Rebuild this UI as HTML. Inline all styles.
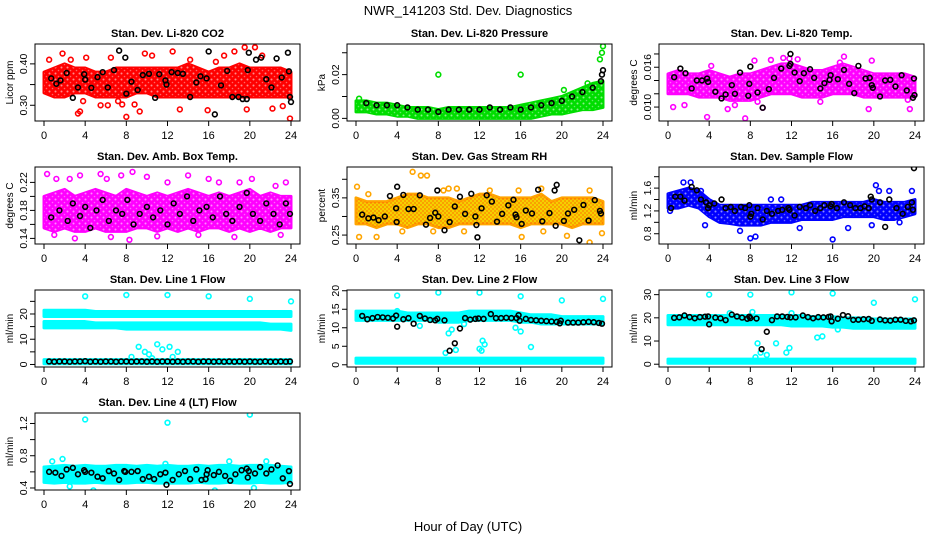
<!DOCTYPE html>
<html><head><meta charset="utf-8"><style>
html,body{margin:0;padding:0;background:#fff;}
svg text{font-family:"Liberation Sans",Arial,sans-serif;}
</style></head><body>
<svg id="chart" width="936" height="540" viewBox="0 0 936 540" xmlns="http://www.w3.org/2000/svg">
<defs>
<pattern id="speck" width="6" height="6" patternUnits="userSpaceOnUse">
<circle cx="1.5" cy="1.5" r="1" fill="#fff" opacity="0.55"/>
<circle cx="4.5" cy="4.5" r="0.8" fill="#fff" opacity="0.4"/>
</pattern>
<pattern id="speckOrange" width="4" height="4" patternUnits="userSpaceOnUse">
<circle cx="1" cy="1" r="1" fill="#ff8c00" opacity="0.9"/>
<circle cx="3" cy="3" r="0.9" fill="#ff3000" opacity="0.5"/>
</pattern>
</defs>
<rect x="0" y="0" width="936" height="540" fill="#fff"/>
<text x="468" y="15" font-size="13" text-anchor="middle">NWR_141203 Std. Dev. Diagnostics</text>
<text x="468" y="531" font-size="13" text-anchor="middle">Hour of Day (UTC)</text>
</svg>
<script>
// ---------- DATA ----------
const hours = [0,1,2,3,4,5,6,7,8,9,10,11,12,13,14,15,16,17,18,19,20,21,22,23,24];
const xTicks = [0,4,8,12,16,20,24];

// P1 CO2
const co2Lo = [0.33,0.32,0.32,0.33,0.33,0.32,0.32,0.32,0.32,0.33,0.33,0.32,0.32,0.32,0.32,0.32,0.32,0.32,0.32,0.32,0.32,0.32,0.32,0.32,0.32];
const co2Hi = [0.38,0.39,0.40,0.39,0.39,0.38,0.38,0.39,0.39,0.39,0.39,0.39,0.39,0.39,0.40,0.39,0.38,0.39,0.39,0.40,0.39,0.39,0.39,0.39,0.38];
const co2Out = [[0.5,0.41],[1.8,0.425],[3.3,0.28],[3.5,0.285],[4.1,0.415],[5.5,0.30],[6.2,0.30],[8.0,0.272],[8.8,0.302],[9.3,0.285],[9.8,0.425],[12.5,0.43],[13.2,0.29],[15.9,0.288],[14.2,0.41],[17.5,0.42],[18.5,0.43],[19.5,0.44],[19.7,0.29],[20.5,0.44],[22.2,0.292],[23.2,0.298],[23.9,0.268],[7.2,0.31],[6.5,0.415],[10.5,0.42],[21.2,0.42],[2.6,0.41],[16.7,0.405],[3.8,0.31],[7.6,0.302]];
const co2Blk = [[0.7,0.365],[1.2,0.352],[1.6,0.36],[2.2,0.378],[2.8,0.318],[3.3,0.343],[3.9,0.375],[4.0,0.362],[4.6,0.342],[5.2,0.368],[5.7,0.38],[6.2,0.343],[6.8,0.385],[7.3,0.432],[7.9,0.415],[8.0,0.328],[8.5,0.357],[9.1,0.337],[9.6,0.373],[10.2,0.376],[10.8,0.318],[11.2,0.375],[11.8,0.36],[11.9,0.35],[12.4,0.38],[13.0,0.378],[13.5,0.376],[14.2,0.32],[14.8,0.355],[15.2,0.37],[15.8,0.365],[16.0,0.43],[16.6,0.278],[17.2,0.348],[17.8,0.383],[18.3,0.32],[18.9,0.32],[19.3,0.315],[19.7,0.315],[19.8,0.385],[19.9,0.427],[20.6,0.41],[21.1,0.415],[21.6,0.363],[22.1,0.343],[22.6,0.413],[23.1,0.367],[23.7,0.427],[23.8,0.382],[23.9,0.32],[24.0,0.308]];

// P2 Pressure
const presLo = [0.003,0.003,0.002,0.002,0.001,0.001,0.0,0.0,0.0,0.0,0.0,0.0,0.0,0.0,0.0,0.0,0.0,0.0,0.001,0.002,0.002,0.003,0.004,0.004,0.005];
const presHi = [0.008,0.008,0.007,0.007,0.006,0.005,0.005,0.005,0.004,0.005,0.005,0.005,0.005,0.005,0.005,0.005,0.006,0.007,0.008,0.009,0.010,0.012,0.014,0.016,0.017];
const presOut = [[8.0,0.020],[16.0,0.020],[23.7,0.027],[23.9,0.030],[24,0.033],[22.5,0.016],[20.2,0.013],[0.3,0.009]];
const presBlk = [[1.0,0.007],[2.0,0.006],[3.0,0.006],[4.0,0.006],[5,0.005],[6,0.004],[7,0.004],[8,0.003],[9,0.004],[10,0.004],[11,0.004],[12,0.004],[13,0.005],[14,0.004],[15,0.005],[16,0.004],[17,0.005],[18,0.006],[19,0.007],[20,0.008],[21,0.010],[22,0.012],[23,0.014],[23.8,0.017],[23.9,0.020],[24,0.022]];

// P3 Li-820 Temp
const tempLo = [0.012,0.012,0.012,0.0115,0.0115,0.0115,0.011,0.011,0.011,0.0115,0.012,0.012,0.012,0.0115,0.0115,0.0115,0.012,0.012,0.012,0.0115,0.0115,0.0115,0.0115,0.0115,0.0115];
const tempHi = [0.015,0.0155,0.015,0.015,0.0155,0.015,0.0145,0.015,0.015,0.0155,0.016,0.0165,0.0165,0.016,0.0155,0.0155,0.016,0.0165,0.016,0.0155,0.015,0.015,0.015,0.015,0.0145];
const tempOut = [[0.5,0.010],[1.6,0.0103],[3.8,0.0085],[6.5,0.0103],[7.5,0.0083],[5.8,0.0097],[9.2,0.0099],[8.7,0.0108],[10,0.0171],[11.2,0.0174],[11.8,0.0173],[12.6,0.0172],[14.8,0.0108],[16.7,0.0167],[17.1,0.0176],[19.5,0.0097],[19.8,0.017],[23.5,0.0097],[23.3,0.0111],[4.2,0.0162],[8.4,0.0170]];
const tempBlk = [[0.6,0.0145],[1.2,0.0158],[1.7,0.0151],[2.3,0.0128],[2.8,0.014],[3.3,0.014],[3.8,0.0143],[3.9,0.0138],[4.6,0.0123],[5.2,0.0113],[5.6,0.0119],[6.2,0.0133],[6.5,0.012],[7.0,0.0152],[7.8,0.0117],[7.9,0.0135],[8.0,0.0161],[8.7,0.0122],[9.2,0.0099],[9.8,0.0127],[10.3,0.0144],[11.0,0.0158],[11.8,0.0162],[11.9,0.0165],[11.9,0.018],[12.3,0.0152],[12.8,0.0139],[13.2,0.0151],[13.8,0.0157],[14.2,0.0144],[14.8,0.0128],[15.2,0.0136],[15.7,0.0141],[15.8,0.0148],[16.5,0.0142],[17.1,0.0156],[17.6,0.0135],[18.1,0.0121],[18.5,0.0162],[19.2,0.0143],[19.6,0.0144],[19.8,0.0133],[19.9,0.0129],[20.6,0.0116],[21.1,0.014],[21.6,0.0141],[22.1,0.0131],[22.7,0.0148],[23.2,0.0125],[23.8,0.0114],[23.9,0.0143],[23.95,0.0118]];

// P4 Amb Box Temp
const ambLo = [0.155,0.15,0.155,0.15,0.15,0.155,0.15,0.15,0.15,0.155,0.155,0.15,0.155,0.15,0.155,0.15,0.155,0.155,0.15,0.155,0.15,0.155,0.15,0.155,0.155];
const ambHi = [0.20,0.205,0.21,0.20,0.205,0.21,0.205,0.20,0.21,0.205,0.20,0.205,0.20,0.205,0.21,0.205,0.20,0.205,0.20,0.205,0.21,0.20,0.205,0.20,0.20];
const ambOut = [[0.3,0.232],[1.2,0.225],[2.5,0.225],[3.5,0.23],[5.5,0.232],[6.1,0.225],[7.5,0.23],[8.6,0.235],[10,0.228],[12,0.22],[14,0.23],[16,0.225],[17,0.22],[19,0.22],[20.2,0.225],[22.5,0.215],[23.5,0.22],[1,0.145],[3,0.14],[6.5,0.142],[8.3,0.138],[11,0.143],[15,0.145],[18.5,0.142],[23,0.145]];
const ambBlk = [[0.7,0.17],[1.5,0.18],[2.3,0.165],[2.8,0.19],[3.5,0.172],[4.0,0.185],[4.5,0.155],[5.1,0.18],[5.7,0.195],[6.3,0.165],[7.0,0.18],[7.6,0.175],[8.1,0.195],[8.7,0.16],[9.3,0.175],[10,0.185],[10.6,0.17],[11.3,0.18],[12.0,0.16],[12.6,0.19],[13.2,0.175],[13.9,0.2],[14.5,0.165],[15.1,0.18],[15.8,0.185],[16.4,0.17],[17.1,0.2],[17.7,0.175],[18.3,0.165],[19.0,0.185],[19.7,0.205],[20.3,0.175],[21.0,0.165],[21.6,0.19],[22.3,0.175],[22.9,0.16],[23.5,0.19],[23.9,0.175]];

// P5 Gas Stream RH
const rhLo = [0.28,0.28,0.27,0.28,0.28,0.27,0.28,0.28,0.27,0.27,0.28,0.28,0.28,0.28,0.28,0.28,0.27,0.28,0.28,0.28,0.28,0.27,0.28,0.28,0.28];
const rhHi = [0.35,0.34,0.34,0.34,0.35,0.36,0.36,0.35,0.35,0.35,0.34,0.35,0.36,0.36,0.35,0.35,0.35,0.35,0.36,0.34,0.35,0.35,0.35,0.35,0.34];
const rhOut = [[0.1,0.38],[0.3,0.245],[1.2,0.36],[2.0,0.245],[5.5,0.42],[6.3,0.41],[6.9,0.41],[8.5,0.37],[9.0,0.375],[9.8,0.375],[13,0.37],[15.8,0.37],[16.1,0.245],[18.0,0.375],[18.2,0.26],[20.5,0.248],[22.7,0.37],[23.9,0.255],[22.7,0.23],[7.5,0.26],[10.5,0.26],[4.5,0.26]];
const rhBlk = [[0.6,0.305],[1.2,0.295],[1.7,0.297],[2.2,0.29],[2.8,0.3],[3.3,0.355],[3.9,0.322],[3.95,0.285],[4.0,0.38],[4.6,0.358],[5.1,0.32],[5.6,0.32],[6.2,0.357],[6.8,0.278],[7.2,0.296],[7.7,0.31],[7.9,0.37],[8.0,0.3],[8.6,0.263],[9.1,0.285],[9.6,0.327],[10.1,0.353],[10.6,0.307],[11.2,0.361],[11.6,0.3],[11.7,0.277],[11.8,0.244],[12.2,0.322],[12.7,0.357],[13.2,0.34],[13.7,0.286],[14.2,0.307],[14.8,0.33],[15.3,0.345],[15.5,0.305],[15.6,0.298],[16.1,0.28],[16.5,0.316],[17.1,0.308],[17.7,0.372],[18.1,0.287],[18.8,0.309],[19.3,0.37],[19.4,0.275],[19.5,0.385],[20.2,0.288],[20.6,0.308],[21.2,0.318],[21.7,0.236],[22.1,0.331],[22.6,0.289],[23.2,0.344],[23.7,0.315],[23.8,0.308]];

// P6 Sample Flow
const sfLo = [1.25,1.25,1.3,1.25,1.1,1.0,0.98,0.95,0.95,0.95,1.0,1.0,1.0,1.05,1.05,1.05,1.05,1.1,1.1,1.1,1.1,1.05,1.05,1.1,1.15];
const sfHi = [1.5,1.55,1.6,1.55,1.4,1.3,1.3,1.3,1.3,1.3,1.3,1.3,1.3,1.3,1.35,1.35,1.35,1.35,1.35,1.35,1.4,1.35,1.35,1.35,1.4];
const sfOut = [[0.2,1.2],[1.5,1.7],[2.2,1.7],[3.2,1.55],[3.6,0.95],[7.0,0.85],[8.0,0.72],[8.5,0.75],[10,1.4],[11,1.4],[16,0.7],[17.5,0.9],[20.2,1.65],[20.5,1.55],[21.5,1.55],[23.7,1.55],[22.5,1.0],[19.8,0.95],[12.8,0.9]];
const sfBlk = [[0.3,1.25],[0.7,1.45],[1.2,1.45],[1.6,1.38],[2.3,1.62],[2.8,1.56],[3.2,1.4],[3.7,1.35],[3.9,1.25],[4.0,1.3],[4.5,1.33],[5.2,1.4],[5.6,1.25],[6.1,1.27],[6.5,1.2],[7.1,1.27],[7.5,1.25],[7.9,1.3],[8.0,1.1],[8.1,1.15],[8.7,1.25],[9.2,1.05],[9.6,1.2],[10.1,1.15],[10.7,1.2],[11.1,1.22],[11.7,1.25],[11.8,1.22],[12.3,1.12],[12.8,1.27],[13.4,1.25],[13.8,1.3],[14.3,1.2],[14.8,1.25],[15.2,1.3],[15.8,1.28],[15.9,1.32],[16.4,1.25],[17.1,1.35],[17.7,1.3],[18.2,1.25],[18.7,1.25],[19.1,1.28],[19.5,1.25],[19.7,1.45],[19.8,1.4],[20.6,1.35],[21.1,0.92],[21.5,1.4],[22.2,1.25],[22.8,1.15],[23.3,1.27],[23.7,1.35],[23.8,1.22],[23.9,1.95]];

// P7 Line 1 Flow
const l1ALo = [19,19,19,19,19,19,19,19,19,19,19,19,19,19,19,19,19,19,19,19,19,19,19,19,19];
const l1AHi = [21.5,21.5,21.5,21.5,21.5,21,21,21,21,21,21,21,21,21,21,21,21,21,21,21,21,21,21,21,21];
const l1BLo = [14.5,14.5,14.5,14.5,14.5,14.5,14.5,14.5,14,14,14,14,14,14,14,14,14,14,14,14,14,14,14,14,13.5];
const l1BHi = [17,17,17,17,17,16.5,16.5,16.5,16.5,16.5,16.5,16.5,16.5,16.5,16.5,16.5,16.5,16.5,16.5,16.5,16.5,16.5,16,16,16];
const l1CLo = [0.3,0.3,0.3,0.3,0.3,0.3,0.3,0.3,0.3,0.3,0.3,0.3,0.3,0.3,0.3,0.3,0.3,0.3,0.3,0.3,0.3,0.3,0.3,0.3,0.3];
const l1CHi = [1.9,1.9,1.9,1.9,1.9,1.9,1.9,1.9,1.9,1.9,1.9,1.9,1.9,1.9,1.9,1.9,1.9,1.9,1.9,1.9,1.9,1.9,1.9,1.9,1.9];
const l1Out = [[4,27],[8,27.5],[12,27.5],[16,27],[20,26],[24,25],[9.2,7],[9.8,5],[10.2,4],[11,8],[11.5,6],[12.2,7],[13,5],[8.5,3],[12.5,3],[10.5,2.5]];
const l1Blk = [[0.5,1.2],[1,1.1],[1.5,1.2],[2,1.2],[2.5,1.1],[3,1.2],[3.5,1.2],[4,1.3],[4.5,1.1],[5,1.2],[5.5,1.1],[6,1.2],[6.5,1.2],[7,1.1],[7.5,1.2],[8,1.2],[8.5,1.1],[9,1.2],[9.5,1.2],[10,1.1],[10.5,1.2],[11,1.1],[11.5,1.2],[12,1.2],[12.5,1.1],[13,1.2],[13.5,1.1],[14,1.2],[14.5,1.2],[15,1.1],[15.5,1.2],[16,1.2],[16.5,1.1],[17,1.2],[17.5,1.1],[18,1.2],[18.5,1.1],[19,1.2],[19.5,1.1],[20,1.2],[20.5,1.1],[21,1.1],[21.5,1.2],[22,1.1],[22.5,1.1],[23,1.2],[23.5,1.1],[23.9,1.2]];

// P8 Line 2 Flow
const l2ALo = [12,12,12,12,12,12,12,12,11.5,11.5,11.5,12,12,12,12,12,11.5,11.5,11,11,11,11,11,11,11];
const l2AHi = [14.5,14.5,14.5,14.5,14.5,14,14,14,14,14,14,14.5,14.5,14.5,14.5,14.5,14,13.5,13.5,13.5,13,13,13,13,13];
const l2BLo = [0.4,0.4,0.4,0.4,0.4,0.4,0.4,0.4,0.4,0.4,0.4,0.4,0.4,0.4,0.4,0.4,0.4,0.4,0.4,0.4,0.4,0.4,0.4,0.4,0.4];
const l2BHi = [1.8,1.8,1.8,1.8,1.8,1.8,1.8,1.8,1.8,1.8,1.8,1.8,1.8,1.8,1.8,1.8,1.8,1.8,1.8,1.8,1.8,1.8,1.8,1.8,1.8];
const l2Out = [[4,18.7],[8,19.5],[12,19.5],[16,18.5],[20,17.4],[24,17.8],[9,8.5],[9.3,9.5],[12,4.3],[12.3,6.5],[12.5,5.5],[12.2,3.8],[17,4.8],[8.7,3.2],[9.7,4],[15.5,10],[16,9],[6.2,10.5],[4,14.5],[10.5,11]];
const l2Blk = [[0.6,13.2],[1.1,12.3],[1.6,12.6],[2.1,12.9],[2.6,12.8],[3.1,12.7],[3.6,12.5],[3.9,13.3],[4.0,10.3],[4.6,12.3],[5.1,12.6],[5.6,11.1],[6.2,13.2],[6.7,12.5],[7.2,12.1],[7.7,12.0],[7.9,12.4],[8.6,12.0],[9.1,3.8],[9.6,5.8],[10.1,9.8],[10.6,12.6],[11.1,12.2],[11.6,12.4],[11.9,12.5],[12.4,12.4],[13.1,13.7],[13.6,12.6],[14.1,12.6],[14.6,12.7],[15.1,12.6],[15.6,12.6],[15.8,13.4],[15.9,11.9],[16.5,12.4],[17.0,12.1],[17.5,12.0],[18.0,11.9],[18.5,11.8],[19.0,11.7],[19.5,11.6],[19.8,11.2],[19.9,11.9],[20.6,11.4],[21.1,11.4],[21.6,11.4],[22.1,11.5],[22.6,11.6],[23.1,11.5],[23.6,11.3],[23.9,11.1]];

// P9 Line 3 Flow
const l3ALo = [17,17,17,17,17,17,17,17,17,17,17,17,16.5,16.5,16.5,16.5,16,16,15.5,15.5,15.5,15.5,15.5,15.5,15.5];
const l3AHi = [21,21,21,21,21,21,21,21,21,21,21,21,21,21,20.5,20.5,20.5,20,20,20,19.5,19.5,19.5,19.5,19.5];
const l3BLo = [0.4,0.4,0.4,0.4,0.4,0.4,0.4,0.4,0.4,0.4,0.4,0.4,0.4,0.4,0.4,0.4,0.4,0.4,0.4,0.4,0.4,0.4,0.4,0.4,0.4];
const l3BHi = [2.2,2.2,2.2,2.2,2.2,2.2,2.2,2.2,2.2,2.2,2.2,2.2,2.2,2.2,2.2,2.2,2.2,2.2,2.2,2.2,2.2,2.2,2.2,2.2,2.2];
const l3Out = [[4,30],[8,30],[12,31],[16,30.5],[20,26.5],[24,28],[8.7,9],[8.5,3],[9,5],[9.6,4],[10.5,9],[11.5,5],[11.8,7],[14.5,11.5],[15,12],[12,22],[6,22],[16.5,15],[8.2,22.5]];
const l3Blk = [[0.6,20],[1.1,20.2],[1.6,21],[2.1,20.3],[2.6,19.8],[3.1,20.3],[3.6,20.5],[3.9,20.6],[4.0,17.2],[4.6,20.1],[5.1,19.8],[5.6,19],[6.2,21.4],[6.7,20.6],[7.2,20.1],[7.7,19.6],[7.9,20.5],[8.0,19.9],[8.6,19.7],[9.1,6.5],[9.6,14],[10.1,19],[10.6,20.6],[11.1,20.6],[11.6,20.4],[11.9,20.2],[12.4,20.2],[13.1,21],[13.6,20.3],[14.1,19.8],[14.6,20.3],[15.1,20.2],[15.6,20.4],[15.8,20.6],[15.9,18.5],[16.5,19.6],[17.0,21.2],[17.5,20.7],[18.0,19.1],[18.5,19.2],[19.0,19.4],[19.5,19.5],[19.8,18.7],[20.6,19.3],[21.1,18.9],[21.6,18.8],[22.1,19.2],[22.6,19.2],[23.1,18.7],[23.6,18.5],[23.9,18.9]];

// P10 Line 4 (LT) Flow
const l4Lo = [0.47,0.46,0.47,0.46,0.46,0.47,0.46,0.46,0.46,0.47,0.47,0.46,0.46,0.46,0.46,0.47,0.46,0.46,0.47,0.46,0.46,0.47,0.46,0.46,0.47];
const l4Hi = [0.66,0.67,0.68,0.67,0.68,0.67,0.67,0.68,0.68,0.67,0.68,0.67,0.68,0.67,0.67,0.68,0.67,0.68,0.68,0.67,0.68,0.68,0.68,0.67,0.66];
const l4Out = [[4,1.25],[12,1.21],[20,1.31],[1.8,0.76],[4.8,0.37],[16.6,0.37],[20.4,0.4],[21.6,0.73],[18,0.73],[0.8,0.73],[2.5,0.42],[11.8,0.7]];
const l4Blk = [[0.5,0.6],[1.1,0.59],[1.7,0.55],[2.2,0.63],[2.8,0.65],[3.3,0.57],[3.9,0.62],[4.0,0.6],[4.6,0.59],[5.2,0.54],[5.7,0.52],[6.3,0.61],[6.8,0.58],[7.3,0.5],[7.8,0.61],[7.9,0.6],[8.5,0.6],[9.1,0.61],[9.6,0.51],[10.2,0.54],[10.7,0.51],[11.3,0.57],[11.8,0.59],[11.9,0.44],[12.5,0.5],[13.1,0.57],[13.7,0.61],[14.2,0.51],[14.8,0.63],[15.3,0.5],[15.7,0.51],[15.8,0.57],[15.9,0.62],[16.5,0.56],[17.0,0.6],[17.6,0.55],[18.1,0.49],[18.6,0.57],[19.2,0.62],[19.7,0.64],[19.8,0.53],[19.9,0.61],[20.5,0.58],[21.0,0.66],[21.6,0.58],[22.1,0.63],[22.7,0.68],[23.2,0.52],[23.8,0.61],[23.9,0.45]];

// ---------- LAYOUT / DRAW ----------
const NS = "http://www.w3.org/2000/svg";
const svg = document.getElementById('chart');
const colLeft = [35,347,659], rowTop = [44,167,290,413], BW = 265, BH = 77;

const panels = [
 {title:"Stan. Dev. Li-820 CO2", ylab:"Licor ppm", c:0, r:0, ymin:0.262, ymax:0.448, ticks:[0.30,0.35,0.40], labs:["0.30","","0.40"], col:"#ff0000", tex:"speck", bands:[[co2Lo,co2Hi]], out:co2Out, blk:co2Blk},
 {title:"Stan. Dev. Li-820 Pressure", ylab:"kPa", c:1, r:0, ymin:-0.0012, ymax:0.034, ticks:[0,0.01,0.02,0.03], labs:["0.00","","0.02",""], col:"#00dd00", tex:"speck", bands:[[presLo,presHi]], out:presOut, blk:presBlk},
 {title:"Stan. Dev. Li-820 Temp.", ylab:"degrees C", c:2, r:0, ymin:0.0079, ymax:0.0195, ticks:[0.010,0.012,0.014,0.016,0.018], labs:["0.010","","","0.016",""], col:"#ff00ff", tex:"speck", bands:[[tempLo,tempHi]], out:tempOut, blk:tempBlk},
 {title:"Stan. Dev. Amb. Box Temp.", ylab:"degrees C", c:0, r:1, ymin:0.132, ymax:0.242, ticks:[0.14,0.16,0.18,0.20,0.22], labs:["0.14","","0.18","","0.22"], col:"#ff00ff", tex:"speck", bands:[[ambLo,ambHi]], out:ambOut, blk:ambBlk},
 {title:"Stan. Dev. Gas Stream RH", ylab:"percent", c:1, r:1, ymin:0.226, ymax:0.433, ticks:[0.25,0.30,0.35,0.40], labs:["0.25","","0.35",""], col:"#ffa500", fill:"#f5d000", tex:"speckOrange", bands:[[rhLo,rhHi]], out:rhOut, blk:rhBlk},
 {title:"Stan. Dev. Sample Flow", ylab:"ml/min", c:2, r:1, ymin:0.62, ymax:1.97, ticks:[0.8,1.0,1.2,1.4,1.6,1.8], labs:["0.8","","1.2","","1.6",""], col:"#0000ff", tex:"speck", bands:[[sfLo,sfHi]], out:sfOut, blk:sfBlk},
 {title:"Stan. Dev. Line 1 Flow", ylab:"ml/min", c:0, r:2, ymin:-1, ymax:29.5, ticks:[0,5,10,15,20,25], labs:["0","","10","","20",""], col:"#00ffff", bands:[[l1ALo,l1AHi],[l1BLo,l1BHi],[l1CLo,l1CHi]], out:l1Out, blk:l1Blk},
 {title:"Stan. Dev. Line 2 Flow", ylab:"ml/min", c:1, r:2, ymin:-0.6, ymax:20.2, ticks:[0,5,10,15,20], labs:["0","5","10","15","20"], col:"#00ffff", bands:[[l2ALo,l2AHi],[l2BLo,l2BHi]], out:l2Out, blk:l2Blk},
 {title:"Stan. Dev. Line 3 Flow", ylab:"ml/min", c:2, r:2, ymin:-1.2, ymax:32, ticks:[0,10,20,30], labs:["0","10","20","30"], col:"#00ffff", bands:[[l3ALo,l3AHi],[l3BLo,l3BHi]], out:l3Out, blk:l3Blk},
 {title:"Stan. Dev. Line 4 (LT) Flow", ylab:"ml/min", c:0, r:3, ymin:0.375, ymax:1.33, ticks:[0.4,0.6,0.8,1.0,1.2], labs:["0.4","","0.8","","1.2"], col:"#00ffff", bands:[[l4Lo,l4Hi]], out:l4Out, blk:l4Blk}
];

function mk(tag, attrs, parent){
  const e = document.createElementNS(NS, tag);
  for (const k in attrs) e.setAttribute(k, attrs[k]);
  (parent||svg).appendChild(e);
  return e;
}

panels.forEach((p, i) => {
  const L = colLeft[p.c], T = rowTop[p.r];
  const xs = h => L + 9 + h * (BW - 18) / 24;
  const ys = v => T + BH - (v - p.ymin) / (p.ymax - p.ymin) * BH;
  const slug = p.title.toLowerCase().replace(/stan\. dev\. /,'').replace(/[^a-z0-9]+/g,'-').replace(/-$/,'');
  const g = mk('g', {});
  
  

  const clipId = 'clip' + i;
  const cp = mk('clipPath', {id: clipId}, g);
  mk('rect', {x: L, y: T, width: BW, height: BH}, cp);
  const plot = mk('g', {'clip-path': 'url(#' + clipId + ')'}, g);
  
  

  p.bands.forEach(b => {
    const lo = b[0], hi = b[1];
    let pts = hours.map((h, k) => xs(h) + ',' + ys(hi[k]));
    pts = pts.concat(hours.slice().reverse().map((h, k) => xs(h) + ',' + ys(lo[hours.length - 1 - k])));
    const poly = mk('polygon', {points: pts.join(' '), fill: p.fill || p.col, stroke: p.col, 'stroke-width': 3, 'stroke-linejoin': 'round'}, plot);
    
    
    if (p.tex) {
      const tx = mk('polygon', {points: pts.join(' '), fill: 'url(#' + p.tex + ')', stroke: 'none'}, plot);
      
      
    }
  });
  p.out.forEach(d => {
    const c = mk('circle', {cx: xs(d[0]), cy: ys(d[1]), r: 2.4, fill: 'none', stroke: p.col, 'stroke-width': 1.6}, plot);
    
    
  });
  p.blk.forEach(d => {
    const c = mk('circle', {cx: xs(d[0]), cy: ys(d[1]), r: 2.4, fill: 'none', stroke: '#000', 'stroke-width': 1.6}, plot);
    
    
  });

  const box = mk('rect', {x: L, y: T, width: BW, height: BH, fill: 'none', stroke: '#000', 'stroke-width': 1}, g);
  
  

  xTicks.forEach(t => {
    const x = xs(t);
    mk('line', {x1: x, y1: T + BH, x2: x, y2: T + BH + 5, stroke: '#000'}, g);
    const tx = mk('text', {x: x, y: T + BH + 18, 'font-size': 11, 'text-anchor': 'middle'}, g);
    tx.textContent = t;
    
    
  });
  p.ticks.forEach((t, k) => {
    const y = ys(t);
    mk('line', {x1: L - 5, y1: y, x2: L, y2: y, stroke: '#000'}, g);
    if (p.labs[k]) {
      const tx = mk('text', {x: L - 8, y: y, 'font-size': 10.5, 'text-anchor': 'middle', transform: 'rotate(-90 ' + (L - 8) + ' ' + y + ')'}, g);
      tx.textContent = p.labs[k];
      
      
    }
  });
  const yl = mk('text', {x: L - 22, y: T + BH / 2, 'font-size': 10, 'text-anchor': 'middle', transform: 'rotate(-90 ' + (L - 22) + ' ' + (T + BH / 2) + ')'}, g);
  yl.textContent = p.ylab;
  
  

  const ti = mk('text', {x: L + BW / 2, y: T - 7, 'font-size': 11, 'font-weight': 'bold', 'text-anchor': 'middle'}, g);
  ti.textContent = p.title;
  
  
});
</script>
</body></html>
